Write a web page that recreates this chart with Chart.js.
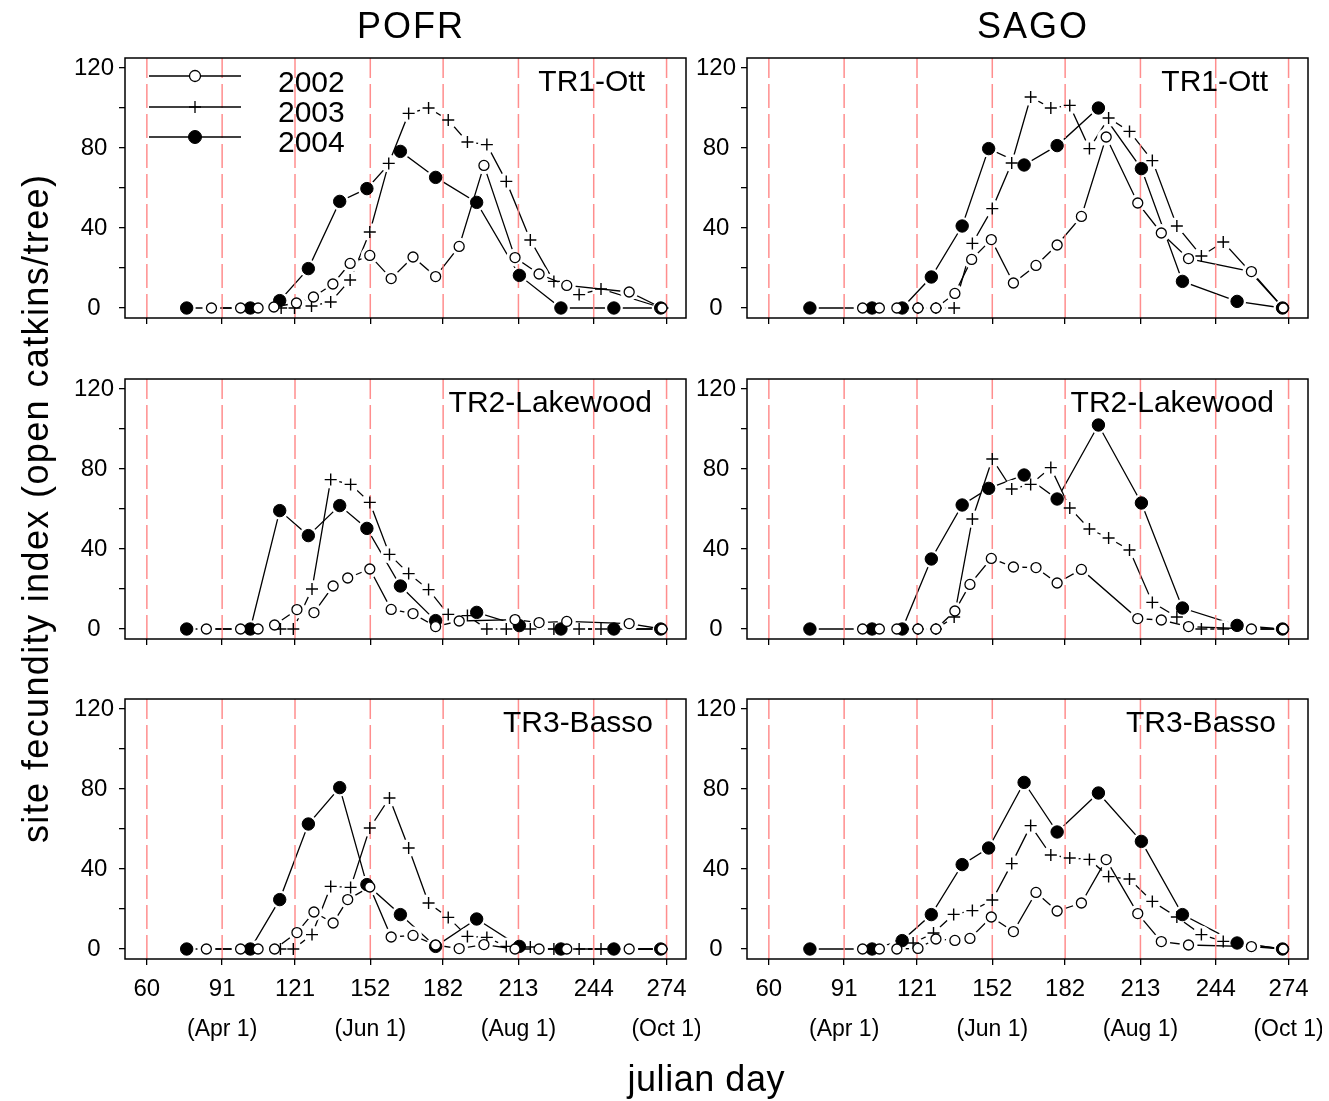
<!DOCTYPE html>
<html>
<head>
<meta charset="utf-8">
<script src="https://cdn.jsdelivr.net/npm/chart.js@4.4.1/dist/chart.umd.min.js"></script>
<style>
html,body{margin:0;padding:0;background:#fff;}
body{width:1329px;height:1101px;position:relative;overflow:hidden;}
canvas{position:absolute;}
#overlay{position:absolute;left:0;top:0;pointer-events:none;}
</style>
</head>
<body>
<canvas id="c0"></canvas><canvas id="c1"></canvas>
<canvas id="c2"></canvas><canvas id="c3"></canvas>
<canvas id="c4"></canvas><canvas id="c5"></canvas>
<svg id="overlay" width="1329" height="1101" font-family="Arial, 'Liberation Sans', Helvetica, sans-serif" fill="#000">
  <text x="410" y="38" font-size="36" text-anchor="middle" textLength="106" lengthAdjust="spacing">POFR</text>
  <text x="1032" y="38" font-size="36" text-anchor="middle" textLength="110" lengthAdjust="spacing">SAGO</text>
  <text x="645" y="91" font-size="30" text-anchor="end">TR1-Ott</text>
  <text x="1268" y="91" font-size="30" text-anchor="end">TR1-Ott</text>
  <text x="652" y="412" font-size="30" text-anchor="end">TR2-Lakewood</text>
  <text x="1274" y="412" font-size="30" text-anchor="end">TR2-Lakewood</text>
  <text x="653" y="732" font-size="30" text-anchor="end">TR3-Basso</text>
  <text x="1276" y="732" font-size="30" text-anchor="end">TR3-Basso</text>
  <text transform="translate(48,509) rotate(-90)" font-size="36" text-anchor="middle" textLength="668" lengthAdjust="spacing">site fecundity index (open catkins/tree)</text>
  <text x="706" y="1091" font-size="36" text-anchor="middle" textLength="157" lengthAdjust="spacing">julian day</text>
  <g stroke="#000" stroke-width="1.3">
    <line x1="149" y1="76" x2="241" y2="76"/>
    <line x1="149" y1="107" x2="241" y2="107"/>
    <line x1="149" y1="137" x2="241" y2="137"/>
    <circle cx="195" cy="76" r="5.5" fill="#fff"/>
    <path d="M189 107h12M195 101v12" fill="none"/>
    <circle cx="195" cy="137" r="6.5" fill="#000" stroke-width="1"/>
  </g>
  <text id="lg0" x="278" y="91.5" font-size="30"></text>
  <text id="lg1" x="278" y="121.5" font-size="30"></text>
  <text id="lg2" x="278" y="151.5" font-size="30"></text>
</svg>
<script>
// ---------- axis / label data ----------
const years = ['2002', '2003', '2004'];
const monthDays = [60, 91, 121, 152, 182, 213, 244, 274];
const dateTickDays = [91, 152, 213, 274];
const dateTickLabels = ['(Apr 1)', '(Jun 1)', '(Aug 1)', '(Oct 1)'];
const yTickValues = [0, 20, 40, 60, 80, 100, 120];
const yLabelledValues = [0, 40, 80, 120];
const xMin = 51, xMax = 282, yMin = -5, yMax = 125;

// ---------- POFR TR1-Ott ----------
const pofrOtt02Day = [86.6, 98.6, 105.8, 112.3, 121.6, 128.6, 136.6, 143.7, 151.8, 160.6, 169.6, 178.9, 188.6, 198.8, 211.6, 221.5, 232.9, 258.6, 272.1];
const pofrOtt02Val = [0, 0, 0, 0.5, 2.5, 5.5, 12, 22.3, 26.3, 14.7, 25.5, 15.7, 30.8, 71.3, 25.2, 17, 11.3, 8, 0];
const pofrOtt03Day = [115.3, 120.8, 127.8, 135.7, 143.7, 151.8, 159.6, 167.8, 176, 184.1, 192, 200, 208, 217.9, 227.6, 238, 247, 272.3];
const pofrOtt03Val = [0, 0, 1, 3, 14, 38, 72.3, 97.3, 100, 94, 83, 81.7, 63.3, 34, 13.3, 6.7, 9.5, 0];
const pofr04Day = [76.4, 102.6, 114.7, 126.5, 139.4, 150.6, 164.4, 178.9, 195.8, 213.4, 230.5, 252.3, 271.6];
const pofrOtt04Val = [0, 0, 3.7, 19.7, 53.3, 59.7, 78.3, 65.3, 52.8, 16.3, 0, 0, 0];

// ---------- SAGO TR1-Ott ----------
const sagoOtt02Day = [98.6, 105.5, 112.7, 121.4, 128.8, 136.6, 143.5, 151.6, 160.7, 170, 178.7, 188.7, 198.9, 211.9, 221.6, 232.8, 258.7, 271.8];
const sagoOtt02Val = [0, 0, 0, 0, 0, 7.3, 24.3, 34.2, 12.5, 21.3, 31.5, 45.8, 85.5, 52.5, 37.5, 24.7, 18.2, 0];
const sagoOtt03Day = [114.9, 121.4, 128.8, 136.3, 143.8, 152, 160, 167.8, 176.1, 183.9, 192, 199.9, 208.5, 217.9, 228, 238.1, 247.1, 271.8];
const sagoOtt03Val = [0, 0, 0, 0, 32.3, 49.7, 72.5, 105.5, 100, 101.3, 79.7, 95, 88.3, 73.7, 41, 26, 33, 0];
const sago04Day = [76.9, 102.5, 114.9, 126.9, 139.6, 150.5, 165.1, 178.7, 195.7, 213.4, 230.3, 252.8, 271.5];
const sagoOtt04Val = [0, 0, 0, 15.5, 41, 79.7, 71.5, 81.2, 100, 69.7, 13.3, 3.3, 0];

// ---------- POFR TR2-Lakewood ----------
const pofrLak02Day = [84.5, 98.6, 105.8, 112.6, 121.8, 128.8, 136.7, 142.7, 151.8, 160.6, 169.6, 178.9, 188.6, 211.6, 221.5, 232.9, 258.6, 272.1];
const pofrLak02Val = [0, 0, 0, 2, 9.7, 8.2, 21.5, 25.5, 30, 9.8, 7.7, 1.2, 4, 4.7, 3.2, 3.8, 2.7, 0];
const pofrLak03Day = [115, 120.3, 128, 135.7, 143.9, 151.8, 159.9, 167.8, 176, 184.1, 192, 200, 208, 217.9, 227.6, 238, 247, 272];
const pofrLak03Val = [0, 0, 20, 74.7, 72.3, 63.3, 37.3, 27.7, 19.7, 7.3, 6.7, 0, 0, 0, 0, 0, 0, 0];
const pofrLak04Val = [0, 0, 59.2, 46.7, 61.7, 50.3, 21.5, 4.2, 8.3, 1.7, 0, 0, 0];

// ---------- SAGO TR2-Lakewood ----------
const sagoLak02Day = [98.6, 105.5, 112.7, 121.4, 128.8, 136.6, 142.8, 151.6, 160.7, 170, 178.7, 188.7, 211.9, 221.6, 232.8, 258.7, 271.8];
const sagoLak02Val = [0, 0, 0, 0, 0, 9, 22.3, 35.3, 31, 30.7, 23, 29.8, 5.2, 4.5, 1.2, 0, 0];
const sagoLak03Day = [114.9, 121.4, 128.8, 136.3, 143.8, 152, 160, 167.8, 176.1, 183.9, 192, 199.9, 208.5, 217.9, 228, 238.1, 247.1, 271.8];
const sagoLak03Val = [0, 0, 0, 6, 55, 85, 70, 72.3, 80.7, 60.5, 50, 45.5, 39.5, 13.3, 6, 0, 0, 0];
const sagoLak04Val = [0, 0, 0, 35, 62, 70.3, 77, 65, 102, 63, 10.5, 1.8, 0];

// ---------- POFR TR3-Basso ----------
const pofrBas02Day = [84.5, 98.6, 105.8, 112.6, 121.8, 128.8, 136.7, 142.7, 151.8, 160.6, 169.6, 178.9, 188.6, 198.8, 211.6, 221.5, 232.9, 258.6, 272.1];
const pofrBas02Val = [0, 0, 0, 0, 8.2, 18.5, 13, 24.7, 31, 6, 6.8, 2, 0.2, 2.2, 0, 0, 0, 0, 0];
const pofrBas03Day = [115, 120.3, 128, 135.7, 143.9, 151.8, 159.9, 167.8, 176, 184.1, 192, 200, 208, 217.9, 227.6, 238, 247, 272];
const pofrBas03Val = [0, 0, 7.2, 31.3, 30.8, 60.5, 75.5, 50.5, 23, 15.8, 6.3, 5.8, 1.3, 1, 0, 0, 0, 0];
const pofrBas04Val = [0, 0, 24.7, 62.5, 80.7, 32.2, 17.2, 1.3, 15, 1.3, 0, 0, 0];

// ---------- SAGO TR3-Basso ----------
const sagoBas02Day = [98.6, 105.5, 112.7, 121.4, 128.8, 136.6, 142.8, 151.6, 160.7, 170, 178.7, 188.7, 198.9, 211.9, 221.6, 232.8, 258.7, 271.8];
const sagoBas02Val = [0, 0, 0, 0.3, 5, 4.3, 5.3, 16, 8.7, 28.3, 19, 23, 44.7, 17.7, 3.7, 2, 1.2, 0];
const sagoBas03Day = [114.6, 119.4, 127.8, 136.1, 143.8, 152, 160, 167.8, 176.1, 183.9, 192, 199.9, 208.5, 217.9, 228, 238.1, 247.1, 271.8];
const sagoBas03Val = [4, 3, 8, 17.3, 19.2, 24.5, 42.7, 61.7, 47, 45.5, 44.8, 36.2, 35, 23.8, 16, 7.2, 3.8, 0];
const sagoBas04Val = [0, 0, 4.2, 17.2, 42.2, 50.5, 83.3, 58.5, 78, 53.8, 17.2, 3, 0];

// ---------- panel table built from the arrays ----------
const panels = [
  {series: [[pofrOtt02Day, pofrOtt02Val], [pofrOtt03Day, pofrOtt03Val], [pofr04Day, pofrOtt04Val]]},
  {series: [[sagoOtt02Day, sagoOtt02Val], [sagoOtt03Day, sagoOtt03Val], [sago04Day, sagoOtt04Val]]},
  {series: [[pofrLak02Day, pofrLak02Val], [pofrLak03Day, pofrLak03Val], [pofr04Day, pofrLak04Val]]},
  {series: [[sagoLak02Day, sagoLak02Val], [sagoLak03Day, sagoLak03Val], [sago04Day, sagoLak04Val]]},
  {series: [[pofrBas02Day, pofrBas02Val], [pofrBas03Day, pofrBas03Val], [pofr04Day, pofrBas04Val]]},
  {series: [[sagoBas02Day, sagoBas02Val], [sagoBas03Day, sagoBas03Val], [sago04Day, sagoBas04Val]]}
];

// legend text
years.forEach((y, i) => { document.getElementById('lg' + i).textContent = y; });

// ---------- styles ----------
const FONT = "Arial, 'Liberation Sans', Helvetica, sans-serif";
const RED = 'rgba(255,130,130,0.9)';
const markerStyle = ['circle', 'cross', 'circle'];
const markerRadius = [5, 6, 6.2];
const markerFill = ['#ffffff', '#000000', '#000000'];
const markerBorder = [1.3, 1.4, 1];
const plotTops = [58, 379, 699];
const colLefts = [55, 677];
const PAD_TOP = 9, PAD_RIGHT = 14, Y_AXIS_W = 70, PLOT_H = 260;
const X_H_PLAIN = 10, X_H_LABEL = 45, X2_H = 48;

const framePlugin = {
  id: 'frame',
  afterDraw(chart) {
    const a = chart.chartArea, ctx = chart.ctx;
    ctx.save();
    ctx.strokeStyle = '#000';
    ctx.lineWidth = 1.5;
    ctx.strokeRect(a.left, a.top, a.right - a.left, a.bottom - a.top);
    ctx.restore();
  }
};

function zeroPad(sc) { sc.paddingTop = 0; sc.paddingBottom = 0; sc.paddingLeft = 0; sc.paddingRight = 0; }

panels.forEach((panel, idx) => {
  const row = Math.floor(idx / 2), col = idx % 2;
  const bottom = row === 2;
  const cv = document.getElementById('c' + idx);
  const h = PAD_TOP + PLOT_H + (bottom ? X_H_LABEL + X2_H : X_H_PLAIN);
  const w = 645;
  cv.width = w; cv.height = h;
  cv.style.width = w + 'px'; cv.style.height = h + 'px';
  cv.style.left = colLefts[col] + 'px';
  cv.style.top = (plotTops[row] - PAD_TOP) + 'px';

  const datasets = [];
  // connecting lines with white gaps around each point
  panel.series.forEach(([days, vals]) => {
    datasets.push({
      data: days.map((d, k) => ({x: d, y: vals[k]})),
      xAxisID: 'x', yAxisID: 'y', order: 3, showLine: true,
      borderColor: '#000', borderWidth: 1.3, tension: 0,
      pointStyle: 'circle', pointRadius: 9, pointBackgroundColor: '#fff',
      pointBorderWidth: 0, pointBorderColor: 'rgba(0,0,0,0)'
    });
  });
  // red dashed month lines
  monthDays.forEach(d => {
    datasets.push({
      data: [{x: d, y: yMin}, {x: d, y: yMax}],
      xAxisID: 'x', yAxisID: 'y', order: 2, showLine: true,
      borderColor: RED, borderWidth: 1.5, borderDash: [24, 6], pointRadius: 0
    });
  });
  // markers
  panel.series.forEach(([days, vals], i) => {
    datasets.push({
      data: days.map((d, k) => ({x: d, y: vals[k]})),
      xAxisID: 'x', yAxisID: 'y', order: 1, showLine: false,
      pointStyle: markerStyle[i], pointRadius: markerRadius[i],
      pointBackgroundColor: markerFill[i], pointBorderColor: '#000',
      pointBorderWidth: markerBorder[i]
    });
  });

  const scales = {
    x: {
      type: 'linear', position: 'bottom', min: xMin, max: xMax, weight: 0,
      afterBuildTicks: sc => { sc.ticks = monthDays.map(v => ({value: v})); },
      afterFit: sc => { sc.height = bottom ? X_H_LABEL : X_H_PLAIN; zeroPad(sc); },
      grid: {drawOnChartArea: false, drawTicks: true, tickLength: 6, color: '#000', tickColor: '#000', lineWidth: 1.3},
      border: {display: false},
      ticks: {display: bottom, autoSkip: false, maxRotation: 0, padding: 10, color: '#000',
              font: {family: FONT, size: 24}, callback: v => String(v)}
    },
    y: {
      type: 'linear', min: yMin, max: yMax,
      afterBuildTicks: sc => { sc.ticks = yTickValues.map(v => ({value: v})); },
      afterFit: sc => { sc.width = Y_AXIS_W; zeroPad(sc); },
      grid: {drawOnChartArea: false, drawTicks: true, tickLength: 6, color: '#000', tickColor: '#000', lineWidth: 1.3},
      border: {display: false},
      ticks: {autoSkip: false, padding: 5, crossAlign: 'center', color: '#000', font: {family: FONT, size: 24},
              callback: v => (yLabelledValues.includes(v) ? String(v) : '')}
    }
  };
  if (bottom) {
    scales.x2 = {
      type: 'linear', position: 'bottom', min: xMin, max: xMax, weight: 1,
      afterBuildTicks: sc => { sc.ticks = dateTickDays.map(v => ({value: v})); },
      afterFit: sc => { sc.height = X2_H; zeroPad(sc); },
      grid: {display: false, drawTicks: false},
      border: {display: false},
      ticks: {autoSkip: false, maxRotation: 0, padding: 12, color: '#000',
              font: {family: FONT, size: 23}, callback: (v, i) => dateTickLabels[i]}
    };
  }

  new Chart(cv, {
    type: 'scatter',
    data: {datasets},
    options: {
      responsive: false, animation: false, events: [],
      devicePixelRatio: 1,
      layout: {padding: {top: PAD_TOP, right: PAD_RIGHT, bottom: 0, left: 0}},
      plugins: {legend: {display: false}, tooltip: {enabled: false}, title: {display: false}},
      scales
    },
    plugins: [framePlugin]
  });
});
</script>
</body>
</html>
